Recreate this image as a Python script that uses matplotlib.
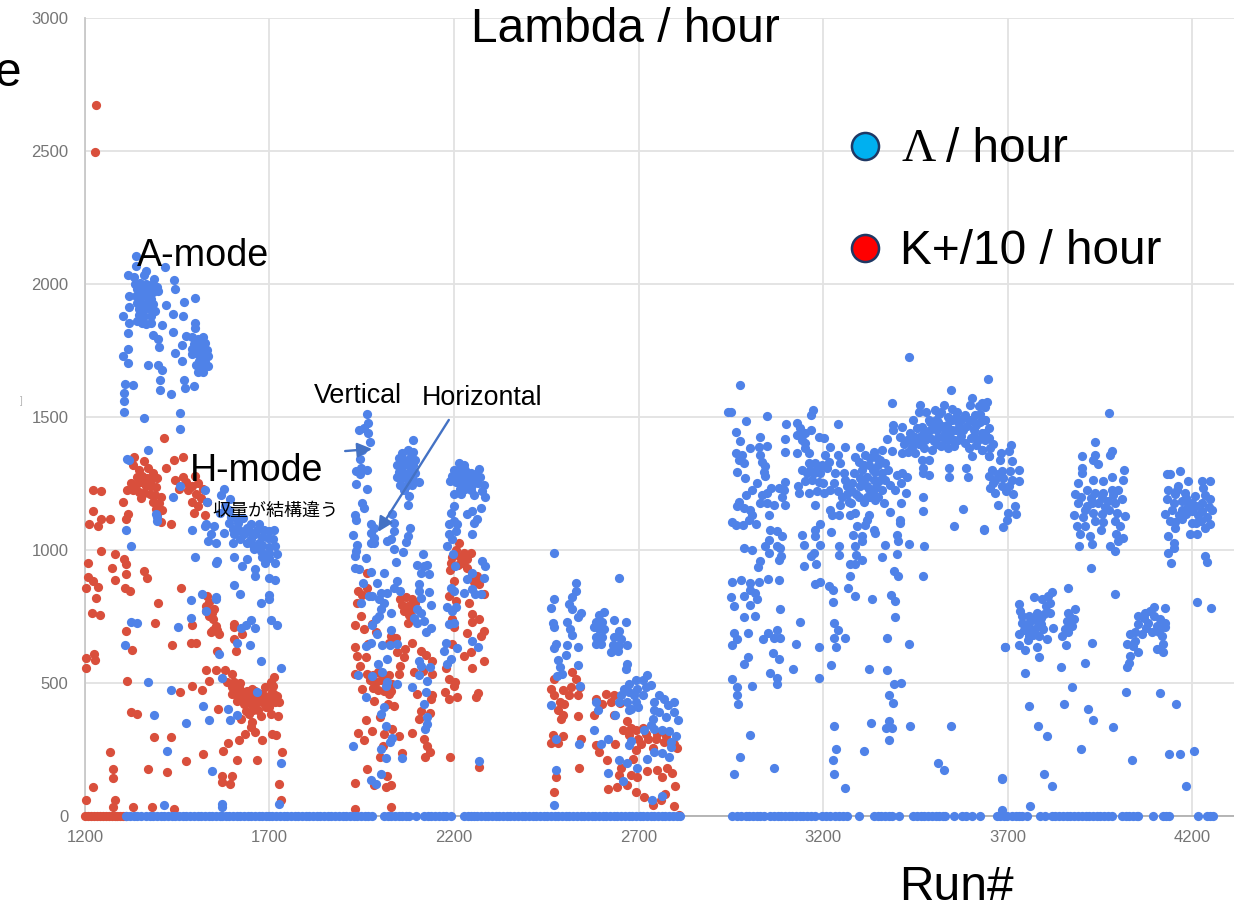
import numpy as np
import matplotlib
matplotlib.use('Agg')
import matplotlib.pyplot as plt
from matplotlib.lines import Line2D

W, H = 1234, 905

# values, (run, rate per hour), block by block
kaon_zero_runs = [1200, 1208, 1216, 1224, 1232, 1240, 1248, 1256, 1264, 1272, 1280, 1288, 1296, 1304, 1310]

kaon_first = [
    (1231, 2672), (1227, 2497), (1415, 1422), (1334, 1350), (1465, 1350), (1442, 1337), (1420, 1309), (1499, 1280),
    (1330, 1320), (1345, 1300), (1360, 1335), (1372, 1310), (1385, 1290), (1340, 1275), (1355, 1280), (1368, 1270),
    (1380, 1262), (1395, 1270), (1325, 1250), (1338, 1245), (1352, 1255), (1365, 1240), (1378, 1240), (1392, 1235),
    (1315, 1225), (1330, 1225), (1345, 1218), (1360, 1215), (1375, 1210), (1390, 1205), (1405, 1200), (1352, 1195),
    (1385, 1180), (1400, 1175), (1392, 1155), (1408, 1150), (1395, 1135), (1465, 1275), (1475, 1255), (1490, 1240),
    (1505, 1250), (1520, 1230), (1480, 1225), (1500, 1210), (1515, 1195), (1530, 1180), (1490, 1180), (1505, 1165),
    (1495, 1140), (1525, 1130), (1445, 1265), (1455, 1230), (1221, 1226), (1243, 1221), (1221, 1145), (1268, 1116),
    (1243, 1116), (1212, 1097), (1234, 1091), (1302, 1179), (1316, 1135), (1311, 1116), (1433, 1097), (1406, 1104),
    (1243, 996), (1281, 986), (1209, 952), (1272, 934), (1306, 967), (1311, 946), (1311, 909), (1360, 921),
    (1369, 896), (1281, 886), (1209, 900), (1221, 884), (1204, 856), (1234, 862), (1230, 821), (1309, 856),
    (1322, 844), (1461, 856), (1398, 800), (1218, 765), (1241, 757), (1390, 724), (1311, 694), (1491, 717),
    (1435, 642), (1487, 649), (1500, 649), (1327, 625), (1204, 594), (1225, 609), (1227, 587), (1204, 555),
    (1315, 509), (1491, 490), (1458, 467), (1516, 474), (1536, 506), (1529, 549), (1326, 392), (1341, 384),
    (1386, 296), (1432, 296), (1268, 240), (1277, 178), (1275, 142), (1372, 178), (1423, 165), (1473, 205),
    (1520, 234), (1222, 110), (1204, 60), (1281, 62), (1275, 32), (1331, 32), (1381, 32), (1441, 26),
    (1574, 246), (1587, 275), (1613, 211), (1667, 212), (1617, 287), (1633, 309), (1649, 334), (1653, 352),
    (1662, 315), (1680, 287), (1707, 309), (1718, 305), (1734, 240), (1570, 152), (1599, 152), (1570, 127),
    (1592, 121), (1725, 119), (1730, 62), (1559, 621), (1608, 619), (1603, 665), (1626, 684), (1603, 721),
    (1605, 709), (1531, 827), (1529, 790), (1536, 752), (1547, 740), (1554, 715), (1541, 690), (1563, 684),
    (1550, 777), (1527, 770), (1535, 805), (1545, 765), (1558, 700), (1548, 700), (1554, 550), (1579, 550),
    (1599, 534), (1586, 502), (1599, 484), (1617, 484), (1599, 459), (1631, 465), (1653, 477), (1613, 434),
    (1640, 440), (1662, 421), (1635, 396), (1676, 377), (1644, 384), (1622, 365), (1703, 384), (1724, 377),
    (1698, 409), (1716, 427), (1725, 427), (1712, 521), (1703, 502), (1689, 484), (1707, 465), (1689, 452),
    (1676, 459), (1610, 470), (1625, 450), (1645, 455), (1660, 445), (1680, 430), (1700, 440), (1715, 455),
    (1650, 420), (1630, 420), (1670, 400), (1695, 425), (1561, 402), (1605, 505), (1620, 500), (1660, 470),
    (1640, 470), (1670, 440), (1690, 410), (1655, 400), (1710, 490), (1720, 450), (1615, 450),
]

kaon_second = [
    (1963, 915), (1941, 846), (1965, 859), (1936, 800), (1947, 752), (1932, 717), (1956, 702), (1979, 721),
    (1988, 690), (1966, 646), (1932, 634), (1938, 602), (1961, 596), (1945, 565), (1932, 534), (1950, 830),
    (2028, 677), (2043, 670), (2024, 650), (2045, 615), (2068, 627), (2086, 652), (2064, 596), (2055, 565),
    (2050, 534), (2055, 815), (2070, 825), (2085, 815), (2095, 800), (2060, 795), (2075, 790), (2088, 780),
    (2065, 770), (2078, 755), (2074, 725), (1965, 535), (1980, 530), (1995, 540), (2010, 525), (2025, 530),
    (1972, 510), (1988, 505), (2002, 510), (2018, 500), (2032, 495), (1980, 480), (1995, 475), (2010, 470),
    (2028, 470), (1983, 434), (1952, 477), (2024, 459), (2037, 415), (2020, 420), (1999, 372), (1961, 362),
    (1977, 321), (1941, 311), (1956, 287), (2011, 309), (2033, 327), (2051, 302), (2086, 311), (2007, 265),
    (2000, 221), (2058, 237), (1965, 177), (1932, 124), (2019, 152), (2028, 115), (2015, 109), (1984, 115),
    (1932, 27), (2028, 34), (2110, 621), (2125, 605), (2141, 584), (2092, 542), (2115, 546), (2141, 534),
    (2101, 459), (2137, 440), (2141, 455), (2110, 396), (2134, 387), (2105, 365), (2119, 290), (2128, 265),
    (2134, 240), (2122, 221), (2214, 1027), (2227, 990), (2245, 987), (2191, 952), (2223, 952), (2236, 934),
    (2263, 902), (2268, 871), (2200, 884), (2205, 809), (2186, 827), (2241, 802), (2281, 834), (2248, 759),
    (2268, 740), (2250, 730), (2195, 740), (2200, 709), (2236, 687), (2281, 696), (2272, 675), (2195, 646),
    (2227, 602), (2245, 615), (2281, 584), (2248, 555), (2177, 555), (2186, 515), (2204, 502), (2200, 490),
    (2176, 467), (2209, 449), (2186, 440), (2266, 462), (2260, 449), (2188, 221), (2268, 184), (2205, 1000),
    (2215, 975), (2235, 965), (2195, 975), (2210, 945), (2250, 910), (2255, 880), (2190, 925),
]

kaon_third = [
    (2472, 516), (2463, 479), (2521, 541), (2530, 516), (2517, 485), (2541, 485), (2472, 454), (2495, 472),
    (2512, 454), (2535, 454), (2486, 429), (2499, 422), (2481, 397), (2495, 379), (2490, 366), (2535, 375),
    (2463, 276), (2481, 276), (2495, 301), (2467, 304), (2544, 291), (2539, 179), (2477, 147), (2472, 89),
    (2584, 441), (2611, 460), (2634, 454), (2602, 422), (2625, 429), (2650, 425), (2580, 381), (2634, 381),
    (2670, 356), (2657, 322), (2693, 322), (2711, 329), (2675, 304), (2698, 291), (2725, 291), (2748, 291),
    (2770, 279), (2707, 272), (2693, 247), (2804, 254), (2738, 254), (2584, 266), (2593, 241), (2636, 270),
    (2614, 212), (2684, 216), (2652, 179), (2724, 170), (2751, 172), (2777, 179), (2790, 160), (2763, 147),
    (2679, 154), (2695, 147), (2648, 154), (2616, 101), (2643, 110), (2670, 116), (2693, 89), (2715, 72),
    (2738, 41), (2760, 60), (2772, 81), (2798, 114), (2795, 36), (2810, 4), (2680, 330), (2720, 310),
    (2750, 310), (2775, 300), (2795, 270),
]

lambda_zero_runs = [
    1312, 1322, 1332, 1342, 1352, 1365, 1375, 1385, 1395, 1405, 1415, 1425, 1435, 1445, 1455, 1465, 1475, 1485,
    1495, 1505, 1515, 1525, 1535, 1545, 1555, 1565, 1572, 1581, 1591, 1601, 1611, 1621, 1631, 1641, 1651, 1661,
    1671, 1681, 1691, 1700, 1708, 1718, 1728, 1738, 1748, 1758, 1768, 1778, 1788, 1798, 1808, 1818, 1828, 1838,
    1848, 1858, 1868, 1878, 1888, 1898, 1908, 1918, 1928, 1938, 1948, 1958, 1968, 1979, 2010, 2020, 2030, 2040,
    2050, 2060, 2070, 2078, 2096, 2119, 2129, 2139, 2149, 2159, 2169, 2179, 2191, 2227, 2237, 2247, 2254, 2263,
    2273, 2283, 2293, 2303, 2313, 2323, 2333, 2343, 2353, 2363, 2373, 2383, 2393, 2403, 2413, 2423, 2433, 2443,
    2453, 2463, 2473, 2483, 2493, 2503, 2513, 2523, 2533, 2543, 2553, 2563, 2573, 2583, 2593, 2603, 2613, 2623,
    2633, 2643, 2653, 2663, 2673, 2683, 2693, 2703, 2713, 2723, 2733, 2743, 2753, 2763, 2773, 2783, 2793, 2803,
    2812, 2954, 2966, 2978, 2990, 3000, 3010, 3020, 3030, 3039, 3057, 3067, 3077, 3087, 3097, 3107, 3117, 3127,
    3137, 3147, 3157, 3167, 3179, 3197, 3208, 3220, 3233, 3244, 3255, 3265, 3298, 3337, 3348, 3358, 3368, 3378,
    3388, 3405, 3445, 3455, 3465, 3475, 3485, 3495, 3505, 3515, 3525, 3531, 3554, 3576, 3588, 3603, 3626, 3671,
    3680, 3690, 3698, 3712, 3722, 3732, 3739, 3752, 3788, 3802, 3820, 3830, 3840, 3850, 3860, 3870, 3880, 3892,
    3901, 3912, 3922, 3933, 3942, 3952, 3962, 3972, 3982, 4010, 4020, 4030, 4040, 4050, 4055, 4093, 4122, 4130,
    4138, 4217, 4240, 4250, 4258,
]

lambda_amode = [
    (1338, 2107), (1338, 2069), (1364, 2050), (1416, 2063), (1316, 2032), (1334, 2025), (1361, 2032), (1388, 2019),
    (1442, 2016), (1445, 1981), (1499, 1946), (1467, 1933), (1420, 1920), (1320, 1956), (1320, 1914), (1302, 1880),
    (1320, 1855), (1316, 1817), (1438, 1886), (1465, 1880), (1499, 1855), (1499, 1836), (1408, 1845), (1438, 1821),
    (1474, 1804), (1384, 1807), (1398, 1792), (1400, 1764), (1462, 1769), (1445, 1739), (1462, 1710), (1316, 1756),
    (1302, 1731), (1316, 1703), (1370, 1697), (1397, 1697), (1409, 1675), (1403, 1640), (1403, 1602), (1433, 1587),
    (1467, 1638), (1471, 1609), (1495, 1617), (1329, 1621), (1309, 1625), (1307, 1590), (1307, 1562), (1307, 1520),
    (1361, 1497), (1458, 1516), (1458, 1455), (1370, 1375), (1313, 1343), (1320, 1340), (1458, 1239), (1438, 1198),
    (1335, 2000), (1350, 2005), (1365, 2000), (1380, 1995), (1395, 1990), (1340, 1980), (1355, 1975), (1370, 1980),
    (1385, 1970), (1398, 1975), (1338, 1955), (1352, 1950), (1366, 1955), (1380, 1945), (1340, 1930), (1355, 1925),
    (1370, 1930), (1385, 1925), (1345, 1905), (1360, 1905), (1375, 1905), (1390, 1900), (1345, 1885), (1360, 1880),
    (1378, 1880), (1340, 1860), (1355, 1855), (1380, 1855), (1365, 1850), (1490, 1800), (1505, 1795), (1520, 1800),
    (1495, 1775), (1510, 1775), (1525, 1780), (1490, 1755), (1505, 1755), (1520, 1755), (1530, 1750), (1490, 1735),
    (1505, 1735), (1520, 1735), (1532, 1730), (1510, 1710), (1525, 1705), (1532, 1690), (1500, 1695), (1515, 1685),
    (1505, 1670), (1520, 1670),
]

lambda_hmode = [
    (1578, 1230), (1569, 1205), (1592, 1192), (1526, 1224), (1530, 1179), (1580, 1165), (1628, 1122), (1650, 1097),
    (1525, 1091), (1392, 1135), (1396, 1125), (1527, 1096), (1541, 1059), (1532, 1034), (1554, 1027), (1577, 1065),
    (1600, 1027), (1591, 1102), (1618, 1077), (1640, 1084), (1671, 1096), (1649, 1040), (1671, 1027), (1698, 1071),
    (1712, 1077), (1716, 1015), (1716, 952), (1689, 952), (1676, 996), (1698, 990), (1658, 1002), (1600, 1080),
    (1615, 1100), (1630, 1060), (1645, 1070), (1660, 1060), (1680, 1050), (1695, 1045), (1710, 1040), (1680, 1020),
    (1700, 1010), (1665, 1075), (1685, 1075), (1700, 970), (1680, 975), (1605, 1060), (1620, 1040), (1640, 1025),
    (1655, 1020), (1720, 985), (1565, 1140), (1590, 1150), (1610, 1120), (1595, 1125), (1550, 1090), (1311, 1077),
    (1326, 1015), (1394, 1109), (1491, 1074), (1498, 974), (1554, 952), (1559, 959), (1605, 974), (1626, 940),
    (1640, 965), (1662, 902), (1662, 927), (1698, 896), (1714, 886), (1605, 869), (1621, 834), (1676, 799),
    (1700, 830), (1700, 815), (1516, 834), (1486, 811), (1554, 825), (1554, 815), (1529, 769), (1486, 746),
    (1453, 712), (1326, 730), (1341, 724), (1309, 642), (1563, 609), (1613, 649), (1646, 642), (1622, 706),
    (1635, 717), (1649, 736), (1662, 706), (1703, 736), (1721, 717), (1676, 584), (1730, 555), (1570, 520),
    (1372, 502), (1432, 472), (1667, 467), (1520, 415), (1587, 402), (1613, 380), (1592, 361), (1536, 361),
    (1386, 380), (1473, 350), (1423, 246), (1545, 169), (1730, 199), (1570, 46), (1570, 34), (1414, 40), (1725, 46),
]

lambda_second = [
    (1963, 1511), (1968, 1477), (1943, 1452), (1957, 1459), (1966, 1440), (1972, 1405), (1952, 1377), (1945, 1342),
    (1947, 1309), (1963, 1300), (1934, 1296), (1945, 1284), (1935, 1249), (1965, 1231), (1952, 1175), (1956, 1159),
    (1932, 1131), (1935, 1112), (1927, 1056), (1936, 1019), (1935, 996), (1932, 977), (1961, 969), (1932, 934),
    (1943, 927), (1974, 917), (1953, 877), (1971, 827), (1947, 800), (1974, 1096), (1983, 1084), (1974, 1065),
    (1983, 1046), (1974, 1027), (1983, 1025), (2033, 1134), (2037, 1102), (2037, 1071), (2028, 1040), (2019, 1034),
    (2080, 1084), (2076, 1052), (2069, 1030), (2037, 1002), (2063, 992), (2042, 956), (2117, 986), (2089, 1412),
    (2060, 1365), (2075, 1375), (2090, 1370), (2050, 1345), (2065, 1340), (2080, 1345), (2095, 1340), (2045, 1320),
    (2060, 1315), (2075, 1320), (2090, 1320), (2050, 1295), (2065, 1290), (2080, 1295), (2095, 1290), (2045, 1275),
    (2060, 1270), (2075, 1265), (2090, 1265), (2105, 1255), (2055, 1245), (2070, 1240), (2085, 1245), (2065, 1225),
    (2078, 1202), (2074, 1171), (2214, 1327), (2227, 1321), (2268, 1306), (2200, 1300), (2215, 1305), (2230, 1300),
    (2245, 1290), (2260, 1285), (2195, 1280), (2210, 1280), (2225, 1280), (2240, 1270), (2255, 1265), (2270, 1275),
    (2190, 1260), (2205, 1255), (2220, 1255), (2235, 1250), (2250, 1245), (2265, 1250), (2280, 1245), (2215, 1230),
    (2230, 1230), (2245, 1225), (2200, 1210), (2220, 1210), (2255, 1205), (2275, 1220), (2285, 1200), (2200, 1167),
    (2272, 1159), (2250, 1146), (2236, 1134), (2191, 1140), (2263, 1115), (2254, 1100), (2200, 1109), (2186, 1096),
    (2209, 1096), (2205, 1071), (2186, 1059), (2195, 1040), (2250, 1061), (2182, 1015), (2197, 986), (2204, 940),
    (2275, 959), (2284, 940), (2248, 915), (2236, 890), (2281, 896), (2191, 859), (2200, 846), (2227, 840),
    (2250, 852), (2272, 834), (2258, 834), (2182, 787), (2205, 784), (2195, 771), (2186, 721), (2200, 725),
    (2177, 652), (2250, 659), (2264, 634), (2209, 630), (2173, 621), (2191, 590), (2182, 571), (2268, 205),
    (2101, 944), (2119, 940), (2128, 944), (2110, 915), (2132, 909), (2105, 871), (2105, 846), (2132, 842),
    (2110, 821), (2139, 794), (2101, 780), (2110, 765), (2092, 746), (2119, 734), (2101, 727), (2139, 705),
    (2123, 690), (2105, 584), (2110, 565), (2135, 561), (2105, 531), (2128, 509), (2087, 486), (2125, 467),
    (2119, 421), (2128, 371), (2126, 346), (2121, 327), (2010, 915), (1992, 877), (2001, 840), (2046, 884),
    (2037, 859), (2055, 846), (2019, 840), (1979, 827), (1997, 815), (2010, 802), (2001, 777), (2028, 765),
    (1997, 752), (1988, 740), (1979, 717), (1990, 684), (2028, 700), (1974, 652), (1961, 640), (2006, 642),
    (2027, 642), (2045, 646), (2019, 590), (1994, 571), (2006, 542), (1979, 525), (1941, 531), (2019, 505),
    (2046, 496), (2015, 487), (1961, 446), (2010, 409), (2001, 384), (2017, 340), (2032, 292), (2026, 277),
    (2001, 252), (1927, 265), (2015, 217), (2058, 217), (2001, 159), (1974, 134), (1988, 121),
]

lambda_third = [
    (2472, 987), (2648, 894), (2530, 876), (2530, 847), (2521, 822), (2472, 814), (2463, 781), (2512, 797),
    (2521, 779), (2544, 764), (2535, 747), (2467, 726), (2472, 710), (2505, 729), (2514, 704), (2519, 679),
    (2477, 647), (2470, 631), (2505, 641), (2535, 637), (2503, 604), (2483, 585), (2487, 560), (2535, 566),
    (2492, 535), (2478, 526), (2541, 487), (2463, 416), (2477, 291), (2539, 270), (2477, 172), (2472, 41),
    (2607, 766), (2593, 754), (2584, 729), (2602, 729), (2580, 710), (2593, 704), (2607, 704), (2584, 672),
    (2602, 672), (2584, 647), (2598, 647), (2634, 737), (2667, 731), (2648, 697), (2634, 672), (2652, 666),
    (2632, 641), (2648, 641), (2670, 644), (2625, 616), (2645, 619), (2670, 572), (2666, 551), (2724, 529),
    (2711, 510), (2693, 510), (2675, 497), (2661, 479), (2652, 454), (2675, 466), (2697, 479), (2720, 485),
    (2733, 491), (2689, 454), (2711, 454), (2670, 429), (2693, 429), (2680, 404), (2698, 410), (2648, 429),
    (2675, 397), (2756, 454), (2770, 441), (2742, 429), (2797, 429), (2779, 416), (2742, 397), (2756, 391),
    (2774, 372), (2797, 391), (2806, 362), (2738, 366), (2733, 341), (2715, 322), (2742, 326), (2765, 322),
    (2783, 320), (2801, 301), (2787, 279), (2787, 260), (2742, 241), (2765, 235), (2783, 222), (2723, 214),
    (2584, 429), (2589, 397), (2636, 379), (2580, 322), (2616, 289), (2598, 270), (2675, 266), (2679, 283),
    (2648, 210), (2670, 201), (2695, 182), (2618, 160), (2657, 131), (2763, 75), (2736, 60),
]

lambda_fourth = [
    (2974, 1620), (2950, 1520), (2943, 1520), (2992, 1485), (3047, 1502), (3101, 1474), (3130, 1476), (3173, 1526),
    (3168, 1507), (3240, 1474), (2965, 1445), (2976, 1411), (3030, 1424), (3026, 1389), (3003, 1382), (3047, 1391),
    (3096, 1416), (3098, 1370), (3139, 1457), (3130, 1432), (3152, 1439), (3168, 1451), (3188, 1426), (3202, 1420),
    (3152, 1401), (3130, 1364), (3161, 1364), (2963, 1364), (2981, 1357), (2972, 1339), (2985, 1326), (3030, 1357),
    (3035, 1332), (3044, 1314), (3039, 1295), (3044, 1279), (2967, 1295), (2988, 1270), (3021, 1251), (3007, 1226),
    (2990, 1207), (2972, 1182), (2967, 1164), (2985, 1157), (3003, 1151), (3035, 1207), (3049, 1214), (3058, 1232),
    (3081, 1232), (3098, 1257), (3094, 1226), (3090, 1201), (3096, 1170), (3030, 1176), (3049, 1176), (3067, 1170),
    (3053, 1132), (3008, 1132), (2999, 1114), (3019, 1099), (2954, 1107), (2963, 1095), (2983, 1095), (3057, 1076),
    (3075, 1070), (3089, 1051), (3053, 1039), (3075, 1014), (3044, 1014), (3084, 1007), (2985, 1007), (3008, 1001),
    (3053, 989), (3087, 976), (3080, 964), (3030, 957), (3024, 936), (3050, 892), (3080, 886), (2954, 880),
    (2979, 886), (3003, 876), (3026, 880), (3003, 851), (3017, 839), (2985, 826), (2951, 822), (3021, 814),
    (2958, 789), (3001, 792), (2987, 747), (3017, 751), (3083, 780), (3139, 729), (2958, 689), (2967, 667),
    (2954, 641), (2996, 689), (3038, 664), (3050, 689), (3075, 701), (3066, 670), (3084, 670), (3127, 647),
    (3064, 614), (3080, 589), (2996, 597), (2987, 570), (3118, 554), (3057, 536), (3075, 520), (3075, 495),
    (3008, 489), (2954, 514), (2967, 486), (2967, 455), (2970, 420), (3003, 305), (2974, 222), (2958, 157),
    (3066, 180), (3143, 1055), (3148, 1020), (3179, 1076), (3193, 1099), (3179, 1051), (3193, 1020), (3175, 989),
    (3168, 979), (3181, 949), (3148, 939), (3223, 1066), (3179, 872), (3193, 880), (3217, 866), (3227, 849),
    (3227, 804), (3231, 724), (3240, 701), (3231, 670), (3260, 670), (3235, 635), (3189, 636), (3223, 566),
    (3189, 519), (3231, 339), (3235, 251), (3227, 210), (3231, 157), (3260, 105), (3244, 1014), (3244, 982),
    (3280, 1055), (3286, 1014), (3289, 982), (3307, 964), (3274, 949), (3288, 949), (3274, 904), (3269, 857),
    (3286, 826), (3333, 816), (3307, 1051), (3305, 1032), (3342, 1064), (3337, 1076), (3369, 1017), (3360, 972),
    (3400, 1057), (3403, 1032), (3400, 985), (3432, 1024), (3475, 1014), (3393, 922), (3402, 904), (3470, 904),
    (3385, 829), (3396, 807), (3394, 747), (3373, 670), (3432, 647), (3324, 554), (3373, 547), (3393, 495),
    (3412, 501), (3378, 455), (3391, 426), (3331, 349), (3378, 357), (3371, 332), (3387, 329), (3436, 339),
    (3380, 285), (3310, 245), (3547, 339), (3511, 199), (3529, 174), (3685, 139), (3694, 635),
    (3131, 1241), (3134, 1216), (3161, 1214), (3184, 1220), (3202, 1214), (3177, 1170), (3220, 1226), (3242, 1220),
    (3265, 1239), (3279, 1220), (3220, 1151), (3224, 1132), (3247, 1170), (3244, 1132), (3274, 1132), (3288, 1139),
    (3277, 1176), (3297, 1201), (3319, 1201), (3324, 1132), (3319, 1114), (3292, 1089), (3315, 1095), (3143, 1301),
    (3161, 1326), (3179, 1326), (3197, 1320), (3211, 1307), (3157, 1289), (3175, 1289), (3193, 1289), (3170, 1264),
    (3188, 1257), (3206, 1357), (3220, 1386), (3260, 1386), (3301, 1386), (3242, 1357), (3288, 1351), (3233, 1289),
    (3247, 1326), (3256, 1289), (3260, 1264), (3279, 1251), (3297, 1332), (3306, 1301), (3315, 1357), (3328, 1345),
    (3337, 1370), (3360, 1376), (3387, 1374), (3319, 1276), (3337, 1264), (3306, 1251), (3342, 1232), (3360, 1226),
    (3364, 1176), (3342, 1189), (3328, 1201), (3369, 1326), (3360, 1289), (3342, 1295), (3369, 1264), (3382, 1245),
    (3396, 1226), (3414, 1289), (3400, 1282), (3427, 1276), (3412, 1251), (3425, 1216), (3412, 1176), (3382, 1142),
    (3408, 1114), (3408, 1101), (3471, 1201), (3471, 1147), (3470, 1289), (3488, 1282), (3470, 1307), (3143, 1414),
    (3150, 1382), (3373, 1417), (3387, 1551), (3432, 1724), (3547, 1601), (3647, 1642), (3391, 1470), (3391, 1451),
    (3414, 1464), (3320, 1240), (3335, 1300), (3350, 1320), (3300, 1270), (3285, 1290), (3310, 1320), (3345, 1250),
    (3355, 1340), (3375, 1300), (3230, 1250), (3200, 1250), (3215, 1330), (3165, 1300), (3185, 1305), (3150, 1260),
    (3252, 1200), (3270, 1180), (3300, 1240), (3325, 1230), (3350, 1200), (3290, 1210), (3310, 1180), (3265, 1210),
    (3335, 1215), (3355, 1265), (3325, 1320), (3345, 1345),
]

lambda_top = [
    (3462, 1545), (3459, 1520), (3445, 1489), (3454, 1457), (3409, 1426), (3427, 1414), (3441, 1389), (3414, 1364),
    (3450, 1364), (3468, 1339), (3486, 1339), (3477, 1414), (3495, 1376), (3468, 1464), (3486, 1489), (3504, 1526),
    (3527, 1545), (3513, 1482), (3540, 1501), (3549, 1451), (3563, 1520), (3585, 1507), (3572, 1464), (3513, 1426),
    (3540, 1414), (3540, 1382), (3567, 1414), (3585, 1401), (3608, 1451), (3603, 1570), (3599, 1545), (3612, 1507),
    (3630, 1551), (3644, 1557), (3639, 1539), (3639, 1489), (3649, 1457), (3630, 1439), (3621, 1414), (3639, 1414),
    (3605, 1354), (3630, 1376), (3650, 1354), (3653, 1382), (3523, 1465), (3500, 1460), (3590, 1465), (3530, 1440),
    (3505, 1490), (3550, 1490), (3605, 1490), (3625, 1480), (3555, 1415), (3475, 1440), (3490, 1450), (3435, 1440),
    (3420, 1400), (3430, 1370), (3460, 1400), (3500, 1410), (3520, 1390), (3560, 1450), (3575, 1430), (3600, 1420),
    (3615, 1470), (3535, 1470), (3480, 1520), (3515, 1510), (3550, 1530), (3575, 1490), (3622, 1540), (3640, 1490),
    (3640, 1440), (3631, 1377), (3542, 1307), (3542, 1276), (3587, 1307), (3593, 1276), (3579, 1154), (3555, 1089),
    (3635, 1076), (3709, 1394), (3703, 1371), (3682, 1365), (3649, 1352), (3680, 1340), (3712, 1334), (3658, 1302),
    (3685, 1296), (3707, 1296), (3730, 1300), (3649, 1277), (3667, 1265), (3689, 1271), (3712, 1265), (3730, 1259),
    (3653, 1234), (3667, 1215), (3685, 1240), (3703, 1240), (3716, 1209), (3673, 1171), (3721, 1167), (3723, 1137),
    (3700, 1140), (3698, 1112), (3689, 1086), (3635, 1080), (3695, 1220), (3660, 1250), (3675, 1285),
    (3450, 1425), (3465, 1430), (3490, 1420), (3510, 1450), (3530, 1415), (3545, 1440), (3565, 1480), (3580, 1450),
    (3595, 1490), (3610, 1430), (3625, 1510), (3650, 1420), (3660, 1400), (3445, 1405), (3475, 1385), (3510, 1400),
    (3555, 1390), (3595, 1385), (3615, 1395), (3490, 1480), (3520, 1520), (3560, 1500),
]

lambda_fifth = [
    (3975, 1515), (3937, 1405), (3937, 1359), (3933, 1340), (3946, 1325), (3982, 1371), (3978, 1359), (3903, 1352),
    (3903, 1309), (3901, 1290), (4017, 1302), (4014, 1265), (3933, 1265), (3960, 1259), (3982, 1275), (3892, 1252),
    (3883, 1209), (3892, 1177), (3915, 1227), (3937, 1215), (3960, 1215), (3982, 1227), (4000, 1227), (4010, 1190),
    (3928, 1177), (3946, 1177), (3973, 1184), (3991, 1177), (3910, 1152), (3933, 1140), (3955, 1134), (3881, 1130),
    (3996, 1140), (4018, 1127), (3887, 1090), (3910, 1092), (3937, 1109), (3954, 1077), (3897, 1059), (3924, 1052),
    (3928, 1021), (3895, 1015), (4005, 1090), (3995, 1059), (4013, 1046), (4000, 1034), (3978, 1015), (3991, 996),
    (3925, 934), (3865, 857), (3992, 834), (3820, 842), (3811, 827), (3773, 824), (3793, 815), (3815, 802),
    (3732, 796), (3734, 771), (3815, 765), (3739, 752), (3757, 752), (3779, 765), (3739, 727), (3757, 727),
    (3780, 734), (3757, 702), (3775, 702), (3797, 702), (3824, 706), (3730, 684), (3757, 677), (3806, 665),
    (3779, 634), (3732, 642), (3748, 625), (3694, 637), (3786, 596), (3748, 537), (3844, 561), (3883, 777),
    (3865, 765), (3879, 740), (3861, 734), (3874, 715), (3856, 702), (3865, 690), (3847, 675), (3858, 642),
    (3928, 649), (3911, 577), (3874, 484), (3757, 415), (3853, 421), (3917, 402), (3933, 362), (3782, 337),
    (3806, 299), (3987, 334), (3899, 252), (3798, 159), (3820, 112), (3685, 142), (3760, 37), (3685, 21),
    (3765, 740), (3790, 720), (3748, 710), (3770, 680), (3785, 675), (3805, 790), (3800, 760), (3745, 700),
    (3900, 1200), (3925, 1195), (3955, 1195), (3915, 1165), (3965, 1160), (3985, 1205), (3975, 1150), (3905, 1125),
    (3990, 1110), (3960, 1105), (3770, 740), (3755, 660), (3790, 745), (3870, 750),
]

lambda_sixth = [
    (4097, 787), (4127, 781), (4073, 765), (4055, 752), (4097, 752), (4113, 740), (4127, 727), (4055, 721),
    (4082, 727), (4104, 715), (4127, 709), (4032, 684), (4064, 684), (4091, 690), (4023, 646), (4045, 659),
    (4118, 677), (4122, 646), (4055, 615), (4104, 627), (4122, 617), (4032, 602), (4029, 577), (4025, 559),
    (4070, 745), (4085, 770), (4045, 690), (4075, 705), (4110, 690), (4040, 640), (4021, 467), (4113, 462),
    (4156, 421), (4037, 211), (4138, 234), (4167, 234), (4206, 246), (4185, 112), (4131, 1284), (4140, 1287),
    (4167, 1296), (4188, 1261), (4226, 1261), (4249, 1261), (4230, 1234), (4163, 1242), (4136, 1227), (4131, 1190),
    (4154, 1209), (4181, 1215), (4208, 1202), (4249, 1190), (4172, 1184), (4199, 1177), (4226, 1177), (4253, 1152),
    (4145, 1152), (4172, 1152), (4199, 1146), (4226, 1146), (4127, 1136), (4140, 1109), (4172, 1115), (4199, 1102),
    (4249, 1096), (4235, 1084), (4195, 1061), (4213, 1061), (4154, 1084), (4136, 1052), (4150, 1027), (4150, 1006),
    (4136, 990), (4142, 952), (4235, 977), (4240, 956), (4214, 806), (4251, 781), (4160, 1225), (4185, 1195),
    (4210, 1165), (4235, 1205), (4150, 1175), (4190, 1165), (4215, 1130), (4240, 1125), (4165, 1130), (4185, 1135),
    (4155, 1105), (4210, 1100), (4225, 1110), (4245, 1160),
]

x_ticks = [1200, 1700, 2200, 2700, 3200, 3700, 4200]
y_ticks = [0, 500, 1000, 1500, 2000, 2500, 3000]

plt.rcParams['font.family'] = ['Liberation Sans', 'Noto Sans CJK JP', 'DejaVu Sans']

fig = plt.figure(figsize=(W / 100, H / 100), dpi=100)
ax = fig.add_axes([85 / W, (H - 816) / H, (W - 85) / W, 798 / H])


def px(x, y):
    return x / W, 1 - y / H


kaon = np.array(kaon_first + kaon_second + kaon_third + [(r, 0) for r in kaon_zero_runs])
lam = np.array(lambda_amode + lambda_hmode + lambda_second + lambda_third + lambda_fourth
               + lambda_top + lambda_fifth + lambda_sixth + [(r, 0) for r in lambda_zero_runs])

ax.scatter(kaon[:, 0], kaon[:, 1], s=44, color='#d94f3c', linewidths=0, clip_on=False, zorder=3)
ax.scatter(lam[:, 0], lam[:, 1], s=44, color='#4f82e8', linewidths=0, clip_on=False, zorder=4)

ax.set_xlim(1200, 1200 + (W - 85) / 0.369)
ax.set_ylim(0, 3000)
ax.set_xticks(x_ticks)
ax.set_yticks(y_ticks)
ax.grid(True, color='#e2e2e2', linewidth=1.3)
ax.set_axisbelow(True)
ax.tick_params(length=0, labelsize=12, labelcolor='#757575', pad=10)
ax.tick_params(axis='y', pad=12)
for side in ['top', 'right']:
    ax.spines[side].set_visible(False)
ax.spines['left'].set_color('#c8c8c8')
ax.spines['bottom'].set_color('#b0b0b0')
ax.spines['left'].set_linewidth(1.3)
ax.spines['bottom'].set_linewidth(1.3)

# slide annotations on top of the chart
big = dict(color='black', va='center', ha='left', zorder=6)
fig.text(*px(471, 30), 'Lambda / hour', fontsize=34.5, **big)
fig.text(*px(899, 887), 'Run#', fontsize=34.5, **big)
fig.text(*px(-5, 74), 'e', fontsize=34.5, **big)
fig.text(*px(137, 256), 'A-mode', fontsize=27.2, **big)
fig.text(*px(190, 471), 'H-mode', fontsize=27, **big)
fig.text(*px(314, 396), 'Vertical', fontsize=19.4, **big)
fig.text(*px(422, 398), 'Horizontal', fontsize=19.3, **big)
fig.text(*px(212, 511), '収量が結構違う', fontsize=13, **big)
fig.text(*px(20, 401), ']', fontsize=7, color='#b8b8b8', va='center', ha='left')

fig.text(*px(901, 150), 'Λ', fontsize=34, family='Liberation Serif', color='black', va='center', ha='left')
fig.text(*px(946, 150), '/ hour', fontsize=34.4, **big)
fig.text(*px(900, 252), 'K+/10 / hour', fontsize=34.4, **big)

for y, fill in [(146, '#00b0f0'), (248, '#ff0000')]:
    fx, fy = px(865, y)
    fig.add_artist(Line2D([fx], [fy], marker='o', markersize=19.5, markerfacecolor=fill,
                          markeredgecolor='#1f3864', markeredgewidth=1.8, linestyle='none', zorder=6))

arrow = dict(arrowstyle='-|>', color='#4472c4', lw=1.7, mutation_scale=22, shrinkA=0, shrinkB=0)
ax.annotate('', xy=(1978, 1380), xytext=(1905, 1372), arrowprops=arrow, zorder=7, annotation_clip=False)
ax.annotate('', xy=(1994, 1068), xytext=(2186, 1489), arrowprops=arrow, zorder=7, annotation_clip=False)

fig.savefig('out.png', dpi=100)
